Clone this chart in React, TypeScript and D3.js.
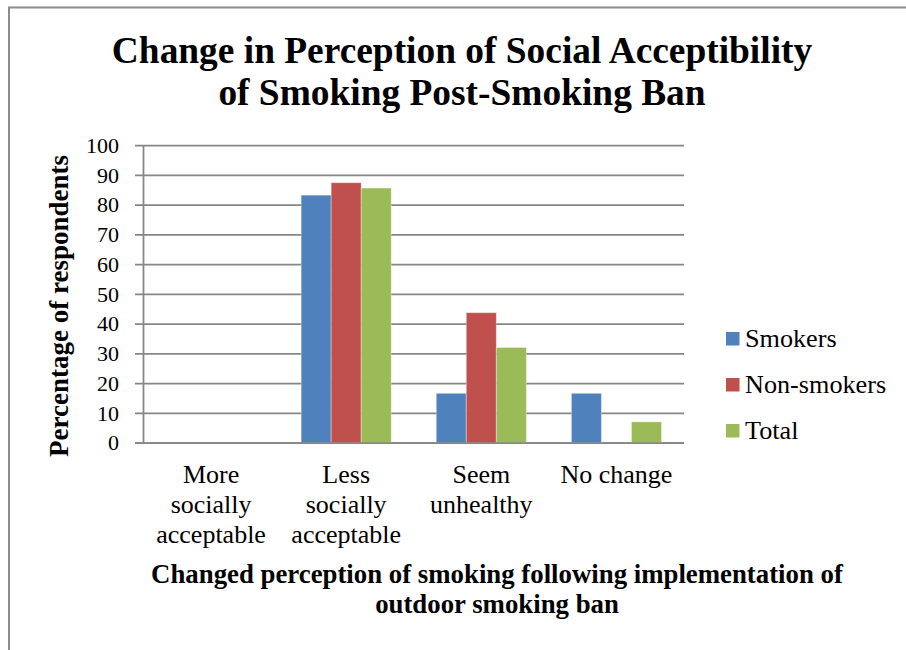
import React from "react";
import * as d3 from "d3";

const categories = [
  ["More", "socially", "acceptable"],
  ["Less", "socially", "acceptable"],
  ["Seem", "unhealthy"],
  ["No change"],
];
const categoryKeys = ["more", "less", "unhealthy", "nochange"];
const seriesNames = ["Smokers", "Non-smokers", "Total"];
const smokers = [0, 83.3, 16.7, 16.7];
const nonSmokers = [0, 87.5, 43.8, 0];
const total = [0, 85.7, 32.1, 7.1];
const seriesValues = [smokers, nonSmokers, total];
const colors = ["#4F81BD", "#C0504D", "#9BBB59"];
const yTicks = [0, 10, 20, 30, 40, 50, 60, 70, 80, 90, 100];

const width = 906;
const height = 650;
const font = "'Liberation Serif', serif";

const plot = { left: 143.5, right: 684, top: 145.5, bottom: 443 };

const App = () => {
  const x = d3.scaleBand(categoryKeys, [plot.left, plot.right]);
  const bw = x.bandwidth();
  const gap = (bw * 0.75) / 4.5;
  const xs = d3.scaleBand(seriesNames, [gap, bw - gap]);
  const y = d3.scaleLinear([0, 100], [plot.bottom, plot.top]);

  return (
    <svg
      width={width}
      height={height}
      style={{ position: "absolute", left: 0, top: 0, background: "white", fontFamily: font }}
    >
      <path d={`M9,${height} V7.5 H${width}`} fill="none" stroke="#8c8c8c" strokeWidth={2} />

      <text fontSize={37.4} fontWeight="bold" textAnchor="middle" fill="#000">
        <tspan x={462} y={63}>Change in Perception of Social Acceptibility</tspan>
        <tspan x={462} y={105}>of Smoking Post-Smoking Ban</tspan>
      </text>

      {/* gridlines + ticks */}
      <g>
        {yTicks.map((t) => (
          <g key={t}>
            <line x1={135} x2={plot.right} y1={y(t)} y2={y(t)} stroke="#868686" strokeWidth={1.75} />
            <text x={119} y={y(t)} dy="0.34em" fontSize={22} textAnchor="end" fill="#000">
              {t}
            </text>
          </g>
        ))}
        <line x1={plot.left} x2={plot.left} y1={plot.top} y2={plot.bottom} stroke="#868686" strokeWidth={1.75} />
      </g>

      {/* bars */}
      <g>
        {seriesValues.map((vals, si) =>
          vals.map((v, ci) =>
            v > 0 ? (
              <rect
                key={`${si}-${ci}`}
                x={(x(categoryKeys[ci]) as number) + (xs(seriesNames[si]) as number)}
                y={y(v)}
                width={xs.bandwidth()}
                height={y(0) - y(v)}
                fill={colors[si]}
                stroke="rgba(255,255,255,0.35)"
                strokeWidth={1}
              />
            ) : null
          )
        )}
      </g>
      <line x1={135} x2={plot.right} y1={y(0)} y2={y(0)} stroke="#868686" strokeWidth={1.75} />

      {/* category labels */}
      {categories.map((lines, ci) => {
        const cx = (x(categoryKeys[ci]) as number) + bw / 2;
        return (
          <text key={ci} fontSize={26} textAnchor="middle" fill="#000">
            {lines.map((l, li) => (
              <tspan key={li} x={cx} y={483 + li * 30}>
                {l}
              </tspan>
            ))}
          </text>
        );
      })}

      {/* axis titles */}
      <text
        transform="translate(68,306) rotate(-90)"
        fontSize={27}
        fontWeight="bold"
        textAnchor="middle"
        fill="#000"
      >
        Percentage of respondents
      </text>
      <text fontSize={26.8} fontWeight="bold" textAnchor="middle" fill="#000">
        <tspan x={497} y={583}>Changed perception of smoking following implementation of</tspan>
        <tspan x={497} y={613}>outdoor smoking ban</tspan>
      </text>

      {/* legend */}
      {seriesNames.map((s, i) => (
        <g key={s} transform={`translate(726,${332 + i * 46})`}>
          <rect width={13.5} height={13.5} fill={colors[i]} />
          <text x={19} y={15} fontSize={26.2} fill="#000">
            {s}
          </text>
        </g>
      ))}
    </svg>
  );
};

export default App;
